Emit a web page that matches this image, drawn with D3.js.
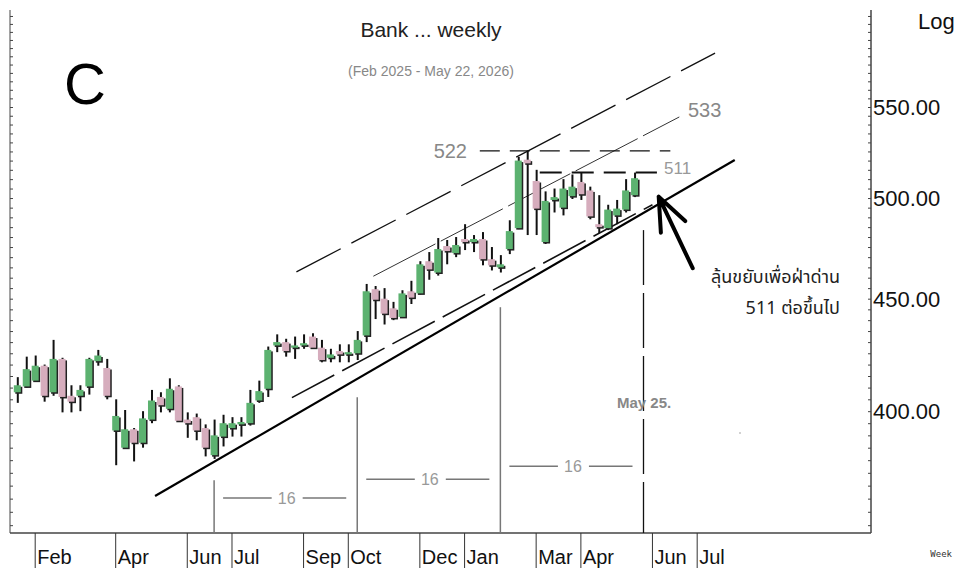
<!DOCTYPE html>
<html>
<head>
<meta charset="utf-8">
<script src="https://cdn.jsdelivr.net/npm/d3@7"></script>
<style>
  body { margin: 0; background: #fff; }
  svg { display: block; font-family: "Liberation Sans", Arial, sans-serif; }
</style>
</head>
<body>
<svg id="chart"></svg>
<script>
// Weekly candles, first week starts 2025-01-20
const firstWeek = "2025-01-20";
const lastWeek = "2026-05-25";   // "May 25." marker week
const opens  = [408,410.5,413,419.5,408,422.5,406.5,406.5,410.5,421.5,418.5,392,385,392.5,387,396.5,406,401,410.5,396.5,
                397.5,393,382,389.5,393,394.5,395,404.5,409.5,428.5,430,427.5,428.5,432.5,427.5,423,426,424.5,425,433,
                454.5,450,445.5,441.5,453.5,452.5,468,462.5,475.5,472,479,477.5,479,469,465,474,484.5,520.5,509,477.5,
                499,495,501,508.5,504,486.5,484.5,491,494,501.5];
const highs  = [414.5,423.5,424,420,431,423,411,411,423,426.5,422.5,405,400.5,393,400,409,408,414,411,399.5,
                399,394.5,396.5,398.5,397.5,397.5,409,413,428,433.5,431.5,432.5,433.5,434,431,427,429,429,435,457,
                456,455,448.5,454,458.5,468,472.5,479.5,478.5,480,486.5,481,482.5,475,471,488.5,522,525.5,515,503.5,
                505,510,512.5,513.5,506,501.5,496.5,499,510,513.5];
const lows   = [403.5,410,412.5,404,406.5,399.5,399.5,400,407,419.5,405,378,384.5,379.5,385,395,399.5,399.5,396,389,
                388,381.5,380.5,385.5,389.5,389.5,394,403.5,406,425.5,423.5,422.5,427,427,421,421,421,421,422,430,
                440.5,438,440,441,447.5,452,459,461,466.5,470,473.5,472.5,466,463.5,462.5,471.5,484,481,481,476.5,
                492.5,491,499.5,499,489,482,483.5,486.5,492.5,500.5];
const closes = [411,418,419.5,406.5,422.5,406,404,409,422.5,424,406.5,398,392.5,387,397,404.5,402.5,409.5,396,395,
                392,385,390,395,395,395.5,403.5,408.5,426.5,430,426,428.5,429.5,427.5,422,424.5,424.5,425.5,431,453.5,
                449.5,443,441,452.5,450.5,466.5,464,474,473,476,477.5,479,469,466,466.5,483,520,518.5,494.5,498.5,
                500.5,505,506,502,490.5,485,494,494.5,504,510.5];

// month labels on the time axis
const monthDates  = ["2025-02-03","2025-04-07","2025-06-02","2025-07-07","2025-09-01","2025-10-06",
                     "2025-12-01","2026-01-05","2026-03-02","2026-04-06","2026-06-01","2026-07-06"];
const monthLabels = ["Feb","Apr","Jun","Jul","Sep","Oct","Dec","Jan","Mar","Apr","Jun","Jul"];

// price axis
const priceLabels = [400, 450, 500, 550];

// trend lines: [week index, price]
const supportLine = [[15.4, 366], [80.2, 520.3]];
const lowerChannel = [[30.7, 405.7], [71.0, 496.5]];
const upperChannel = [[31.2, 462.8], [78.0, 581.9]];
const midChannel = [[39.8, 460.7], [74.0, 544.3]];
// horizontal levels: [from week, to week, price, label]
const levels = [[51.7, 73.0, 525.3, "522"], [58.4, 71.5, 513.6, "511"]];
// 16-week cycle markers: week index and top price of the vertical line
const cycleWeeks = [22, 38, 54, 70];
const cycleTops = [372.1, 405.9, 446.0, 483.5];
const cycleLevels = [365.2, 372.5, 377.6];
// arrow: tip and tail [week index, price]
const arrowTip = [71.7, 500.7];
const arrowTail = [75.5, 464.6];

const width = 954, height = 569;
const svg = d3.select("#chart").attr("width", width).attr("height", height);

const parse = d3.utcParse("%Y-%m-%d");
const t0 = parse(firstWeek), t1 = parse(lastWeek);
const x = d3.scaleUtc().domain([t0, t1]).range([17.3, 643.5]);
const y = d3.scaleLog().domain([352.1, 608.8]).range([533, 10]);
const wk = i => new Date(+t0 + i * 7 * 864e5);
const px = p => [x(wk(p[0])), y(p[1])];

const plotLeft = 10, plotRight = 871, plotBottom = 533, plotTop = 10;

// frame
svg.append("line").attr("x1", plotLeft).attr("x2", plotRight).attr("y1", plotBottom).attr("y2", plotBottom)
  .attr("stroke", "#444").attr("stroke-width", 1.5);

const minorTicks = d3.range(355, 610, 5);

// left axis, ticks pointing right
svg.append("g").attr("transform", `translate(${plotLeft},0)`)
  .call(d3.axisRight(y).tickValues(minorTicks).tickSize(3).tickSizeOuter(0).tickFormat(""))
  .call(g => g.select(".domain").attr("d", `M0,${plotTop}V${plotBottom}`).attr("stroke", "#444"))
  .call(g => g.selectAll(".tick line").attr("stroke", "#444"));

// right axis, ticks pointing left
svg.append("g").attr("transform", `translate(${plotRight},0)`)
  .call(d3.axisLeft(y).tickValues(minorTicks).tickSize(3).tickSizeOuter(0).tickFormat(""))
  .call(g => g.select(".domain").attr("d", `M0,${plotTop}V${plotBottom}`).attr("stroke", "#444").attr("stroke-width", 1.5))
  .call(g => g.selectAll(".tick line").attr("stroke", "#444"));

svg.append("g").selectAll("text")
  .data(priceLabels)
  .join("text")
  .attr("x", plotRight + 2)
  .attr("y", d => y(d))
  .attr("dy", "0.36em")
  .attr("font-size", 22)
  .attr("fill", "#111")
  .text(d => d3.format(".2f")(d));

svg.append("text").attr("x", 918).attr("y", 29).attr("font-size", 22).attr("fill", "#111").text("Log");

// month ticks
const months = svg.append("g");
months.selectAll("line")
  .data(monthDates)
  .join("line")
  .attr("x1", d => x(parse(d))).attr("x2", d => x(parse(d)))
  .attr("y1", plotBottom).attr("y2", 568)
  .attr("stroke", "#333");
months.selectAll("text")
  .data(monthDates)
  .join("text")
  .attr("x", d => x(parse(d)) + 2)
  .attr("y", 564)
  .attr("font-size", 20)
  .attr("fill", "#111")
  .text((d, i) => monthLabels[i]);

svg.append("text").attr("x", 952).attr("y", 557).attr("text-anchor", "end")
  .attr("font-family", "DejaVu Sans Mono").attr("font-size", 9).attr("fill", "#333").text("Week");

// titles
svg.append("text").attr("x", 431).attr("y", 37).attr("text-anchor", "middle")
  .attr("font-size", 21).attr("fill", "#222").text("Bank ... weekly");
svg.append("text").attr("x", 431).attr("y", 76).attr("text-anchor", "middle")
  .attr("font-size", 14).attr("fill", "#888").text("(Feb 2025 - May 22, 2026)");
svg.append("text").attr("x", 64).attr("y", 104)
  .attr("font-size", 58).attr("fill", "#000").text("C");

// 16-week cycle lines
const cyc = svg.append("g").attr("stroke", "#777").attr("stroke-width", 1.5);
cycleWeeks.slice(0, 3).forEach((w, i) => {
  cyc.append("line")
    .attr("x1", x(wk(w))).attr("x2", x(wk(w)))
    .attr("y1", y(cycleTops[i])).attr("y2", plotBottom);
});
svg.append("line")
  .attr("x1", x(wk(70))).attr("x2", x(wk(70)))
  .attr("y1", y(cycleTops[3])).attr("y2", plotBottom)
  .attr("stroke", "#111").attr("stroke-width", 1.3).attr("stroke-dasharray", "55,8");

cycleLevels.forEach((lv, i) => {
  const xa = x(wk(cycleWeeks[i])), xb = x(wk(cycleWeeks[i + 1]));
  const mid = (xa + xb) / 2, yy = y(lv);
  cyc.append("line").attr("x1", xa + 9).attr("x2", mid - 14).attr("y1", yy).attr("y2", yy);
  cyc.append("line").attr("x1", mid + 17).attr("x2", xb - 11).attr("y1", yy).attr("y2", yy);
  svg.append("text").attr("x", mid + 1).attr("y", yy).attr("dy", "0.36em")
    .attr("text-anchor", "middle").attr("font-size", 16).attr("fill", "#999").text("16");
});

// trend lines
const line = d3.line().x(d => px(d)[0]).y(d => px(d)[1]);
svg.append("path").attr("d", line(upperChannel)).attr("fill", "none")
  .attr("stroke", "#111").attr("stroke-width", 1.3).attr("stroke-dasharray", "50,12");
svg.append("path").attr("d", line(midChannel)).attr("fill", "none")
  .attr("stroke", "#333").attr("stroke-width", 1).attr("stroke-dasharray", "70,6");
svg.append("path").attr("d", line(lowerChannel)).attr("fill", "none")
  .attr("stroke", "#111").attr("stroke-width", 1.6).attr("stroke-dasharray", "48,9");
svg.append("path").attr("d", line(supportLine)).attr("fill", "none")
  .attr("stroke", "#000").attr("stroke-width", 2.2);

// horizontal levels
levels.forEach((lv, i) => {
  svg.append("line")
    .attr("x1", x(wk(lv[0]))).attr("x2", x(wk(lv[1])))
    .attr("y1", y(lv[2])).attr("y2", y(lv[2]))
    .attr("stroke", "#111")
    .attr("stroke-width", i === 0 ? 1.2 : 2)
    .attr("stroke-dasharray", i === 0 ? "20,10" : "22,10");
});
svg.append("text").attr("x", 467).attr("y", y(levels[0][2]) + 7).attr("text-anchor", "end")
  .attr("font-size", 20).attr("fill", "#888").text(levels[0][3]);
svg.append("text").attr("x", 664).attr("y", y(levels[1][2]) + 2)
  .attr("font-size", 17).attr("fill", "#999").text(levels[1][3]);
svg.append("text").attr("x", 688).attr("y", 117)
  .attr("font-size", 20).attr("fill", "#888").text("533");

// candles
const data = opens.map((o, i) => ({
  date: wk(i), o, h: highs[i], l: lows[i], c: closes[i]
}));
const bw = 7;
const candles = svg.append("g").selectAll("g").data(data).join("g");
candles.append("line")
  .attr("x1", d => x(d.date) + 0.5).attr("x2", d => x(d.date) + 0.5)
  .attr("y1", d => y(d.h)).attr("y2", d => y(d.l))
  .attr("stroke", "#111").attr("stroke-width", 2);
candles.append("rect")
  .attr("x", d => x(d.date) - bw / 2 + 1.5)
  .attr("y", d => y(Math.max(d.o, d.c)) + 1.5)
  .attr("width", bw)
  .attr("height", d => Math.max(1.5, Math.abs(y(d.o) - y(d.c))))
  .attr("fill", "#222");
candles.append("rect")
  .attr("x", d => x(d.date) - bw / 2)
  .attr("y", d => y(Math.max(d.o, d.c)))
  .attr("width", bw)
  .attr("height", d => Math.max(1.5, Math.abs(y(d.o) - y(d.c))))
  .attr("fill", d => d.c >= d.o ? "#5cb270" : "#d6adbd");

// arrow
const tip = px(arrowTip), tail = px(arrowTail);
const ang = Math.atan2(tail[1] - tip[1], tail[0] - tip[0]);
const headLen = 36, spread = 22 * Math.PI / 180;
const arrow = d3.path();
arrow.moveTo(tail[0], tail[1]); arrow.lineTo(tip[0], tip[1]);
arrow.moveTo(tip[0] + headLen * Math.cos(ang - spread), tip[1] + headLen * Math.sin(ang - spread));
arrow.lineTo(tip[0], tip[1]);
arrow.lineTo(tip[0] + headLen * Math.cos(ang + spread), tip[1] + headLen * Math.sin(ang + spread));
svg.append("path").attr("d", arrow.toString()).attr("fill", "none")
  .attr("stroke", "#000").attr("stroke-width", 4).attr("stroke-linecap", "round").attr("stroke-linejoin", "round");

// notes
const thai = `"Noto Sans Thai", "Noto Sans", "Liberation Sans", sans-serif`;
svg.append("text").attr("x", 840).attr("y", 283).attr("text-anchor", "end")
  .attr("font-family", thai).attr("font-size", 18).attr("fill", "#222").text("ลุ้นขยับเพื่อฝ่าด่าน");
svg.append("text").attr("x", 840).attr("y", 314).attr("text-anchor", "end")
  .attr("font-family", thai).attr("font-size", 18).attr("fill", "#222").text("511 ต่อขึ้นไป");
svg.append("text").attr("x", 617).attr("y", 408)
  .attr("font-size", 15).attr("font-weight", "bold").attr("fill", "#888").text("May 25.");
svg.append("circle").attr("cx", 740).attr("cy", 433).attr("r", 0.8).attr("fill", "#999");
</script>
</body>
</html>
